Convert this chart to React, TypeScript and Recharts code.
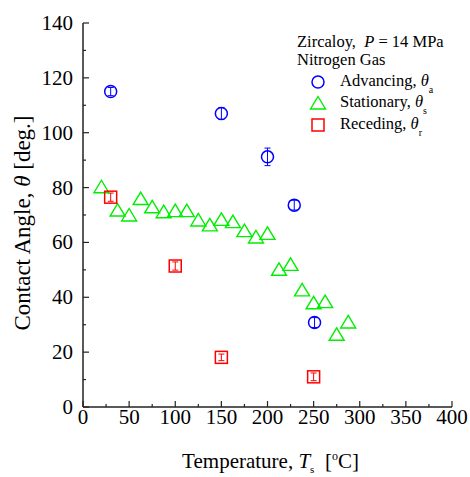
import { ScatterChart, Scatter, XAxis, YAxis, ErrorBar, Label, Legend } from "recharts";

const SERIF = "'Liberation Serif', 'Times New Roman', serif";

// temperature [°C] / contact angle [deg.] / error [deg.]
const advTemp = [30, 150, 200, 229, 251];
const advAngle = [115, 107, 91.2, 73.6, 30.8];
const advErr = [1.5, 2.2, 3.2, 1.8, 1.8];

const statTemp = [20, 37.5, 50, 62.5, 75, 87.5, 100, 112.5, 125, 137.5, 150, 162.5, 175, 187.5, 200, 212.5, 225, 237.5, 250, 262.5, 275, 287.5];
const statAngle = [80.3, 71.8, 70, 76, 73, 71.2, 71.6, 71.6, 68.2, 66.4, 68.4, 67.6, 64.3, 62, 63.3, 50.2, 52, 42.7, 38, 38.4, 26.5, 31];

const recTemp = [30, 100, 150, 250];
const recAngle = [76.5, 51.4, 18.1, 11];
const recErr = [1.5, 1.5, 1.2, 1.4];

const xTicks = [0, 25, 50, 75, 100, 125, 150, 175, 200, 225, 250, 275, 300, 325, 350, 375, 400];
const yTicks = [0, 10, 20, 30, 40, 50, 60, 70, 80, 90, 100, 110, 120, 130, 140];

const BLUE = "#0000ff";
const GREEN = "#00ee00";
const RED = "#ff0000";
const FRAME = "#222";

const advData = advTemp.map((t, i) => ({ t, a: advAngle[i], err: advErr[i] }));
const statData = statTemp.map((t, i) => ({ t, a: statAngle[i] }));
const recData = recTemp.map((t, i) => ({ t, a: recAngle[i], err: recErr[i] }));

const legendItems = [
  { label: "Advancing, ", sub: "a", kind: "circle" },
  { label: "Stationary, ", sub: "s", kind: "triangle" },
  { label: "Receding, ", sub: "r", kind: "square" },
];

function marker(kind: string, cx: number, cy: number) {
  if (kind === "circle")
    return <circle cx={cx} cy={cy} r={6} fill="none" stroke={BLUE} strokeWidth={1.5} />;
  if (kind === "triangle")
    return (
      <polygon
        points={`${cx},${cy - 6.5} ${cx + 7.5},${cy + 6} ${cx - 7.5},${cy + 6}`}
        fill="none"
        stroke={GREEN}
        strokeWidth={1.4}
      />
    );
  return <rect x={cx - 6} y={cy - 6} width={12} height={12} fill="none" stroke={RED} strokeWidth={1.5} />;
}

const XTick = ({ x, y, payload }: any) => {
  const major = payload.value % 50 === 0;
  return (
    <g>
      <line x1={x} x2={x} y1={y} y2={y - (major ? 6 : 3)} stroke={FRAME} strokeWidth={1.2} />
      {major && (
        <text x={x} y={y + 17} textAnchor="middle" fontSize={21} fontFamily={SERIF} fill="#000">
          {payload.value}
        </text>
      )}
    </g>
  );
};

const TopTick = ({ x, y, payload }: any) => {
  const major = payload.value % 50 === 0;
  return <line x1={x} x2={x} y1={y} y2={y + (major ? 6 : 3)} stroke={FRAME} strokeWidth={1.2} />;
};

const YTick = ({ x, y, payload }: any) => {
  const major = payload.value % 20 === 0;
  return (
    <g>
      <line x1={x} x2={x + (major ? 6 : 3)} y1={y} y2={y} stroke={FRAME} strokeWidth={1.2} />
      {major && (
        <text x={x - 10} y={y + 7} textAnchor="end" fontSize={21} fontFamily={SERIF} fill="#000">
          {payload.value}
        </text>
      )}
    </g>
  );
};

const RightTick = ({ x, y, payload }: any) => {
  const major = payload.value % 20 === 0;
  return <line x1={x} x2={x - (major ? 6 : 3)} y1={y} y2={y} stroke={FRAME} strokeWidth={1.2} />;
};

const XTitle = ({ viewBox }: any) => (
  <text
    x={viewBox.x + viewBox.width / 2 + 3}
    y={viewBox.y + 61}
    textAnchor="middle"
    fontSize={21}
    fontFamily={SERIF}
    fill="#000"
  >
    Temperature,{"\u00a0"}
    <tspan fontStyle="italic">T</tspan>
    <tspan dy={5} fontSize={11}>s</tspan>
    <tspan dy={-5}>{"\u00a0\u00a0["}</tspan>
    <tspan dy={-8} fontSize={12}>o</tspan>
    <tspan dy={8}>C]</tspan>
  </text>
);

const YTitle = ({ viewBox }: any) => {
  const cy = viewBox.y + viewBox.height / 2 + 8;
  return (
    <text
      x={30}
      y={cy}
      transform={`rotate(-90, 30, ${cy})`}
      textAnchor="middle"
      fontSize={23}
      fontFamily={SERIF}
      fill="#000"
    >
      Contact Angle,{"\u00a0"}
      <tspan fontStyle="italic">θ</tspan>
      {"\u00a0[deg.]"}
    </text>
  );
};

const LegendBox = () => (
  <div style={{ fontFamily: SERIF, fontSize: 16.5, lineHeight: "18px", color: "#000" }}>
    <div>
      Zircaloy,{"\u00a0\u00a0"}
      <i>P</i> = 14 MPa
    </div>
    <div>Nitrogen Gas</div>
    <div style={{ paddingTop: 2 }}>
      {legendItems.map((it) => (
        <div key={it.kind} style={{ display: "flex", alignItems: "center", height: 21.5 }}>
          <svg width={20} height={20} style={{ marginLeft: 11, marginRight: 12, flex: "none" }}>
            {marker(it.kind, 10, 10)}
          </svg>
          <span style={{ whiteSpace: "nowrap" }}>
            {it.label}
            <i>θ</i>
            <span style={{ fontSize: 10, position: "relative", top: 7 }}>{it.sub}</span>
          </span>
        </div>
      ))}
    </div>
  </div>
);

export default function App() {
  return (
    <div style={{ position: "absolute", left: 0, top: 0 }}>
      <ScatterChart width={470} height={477} margin={{ top: 23, right: 18, bottom: 0, left: 0 }}>
        <XAxis
          dataKey="t"
          type="number"
          domain={[0, 400]}
          ticks={xTicks}
          interval={0}
          tickSize={0}
          tickMargin={0}
          tickLine={false}
          tick={XTick}
          height={70}
          axisLine={{ stroke: FRAME, strokeWidth: 1.5 }}
        >
          <Label content={XTitle} />
        </XAxis>
        <XAxis
          xAxisId="top"
          orientation="top"
          type="number"
          domain={[0, 400]}
          ticks={xTicks}
          interval={0}
          tickSize={0}
          tickMargin={0}
          tickLine={false}
          tick={TopTick}
          height={0}
          axisLine={{ stroke: FRAME, strokeWidth: 1.5 }}
        />
        <YAxis
          dataKey="a"
          type="number"
          domain={[0, 140]}
          ticks={yTicks}
          interval={0}
          tickSize={0}
          tickMargin={0}
          tickLine={false}
          tick={YTick}
          width={83}
          axisLine={{ stroke: FRAME, strokeWidth: 1.5 }}
        >
          <Label content={YTitle} />
        </YAxis>
        <YAxis
          yAxisId="right"
          orientation="right"
          type="number"
          domain={[0, 140]}
          ticks={yTicks}
          interval={0}
          tickSize={0}
          tickMargin={0}
          tickLine={false}
          tick={RightTick}
          width={0}
          axisLine={{ stroke: FRAME, strokeWidth: 1.5 }}
        />
        <Legend
          layout="vertical"
          align="center"
          verticalAlign="middle"
          wrapperStyle={{ top: 33, left: 297, width: 165 }}
          content={() => <LegendBox />}
        />
        <Scatter
          name="Stationary"
          data={statData}
          isAnimationActive={false}
          shape={(p: any) => marker("triangle", p.cx, p.cy)}
        />
        <Scatter
          name="Receding"
          data={recData}
          isAnimationActive={false}
          shape={(p: any) => marker("square", p.cx, p.cy)}
        >
          <ErrorBar dataKey="err" direction="y" width={3} stroke={RED} strokeWidth={1} />
        </Scatter>
        <Scatter
          name="Advancing"
          data={advData}
          isAnimationActive={false}
          shape={(p: any) => marker("circle", p.cx, p.cy)}
        >
          <ErrorBar dataKey="err" direction="y" width={3} stroke={BLUE} strokeWidth={1} />
        </Scatter>
      </ScatterChart>
    </div>
  );
}
